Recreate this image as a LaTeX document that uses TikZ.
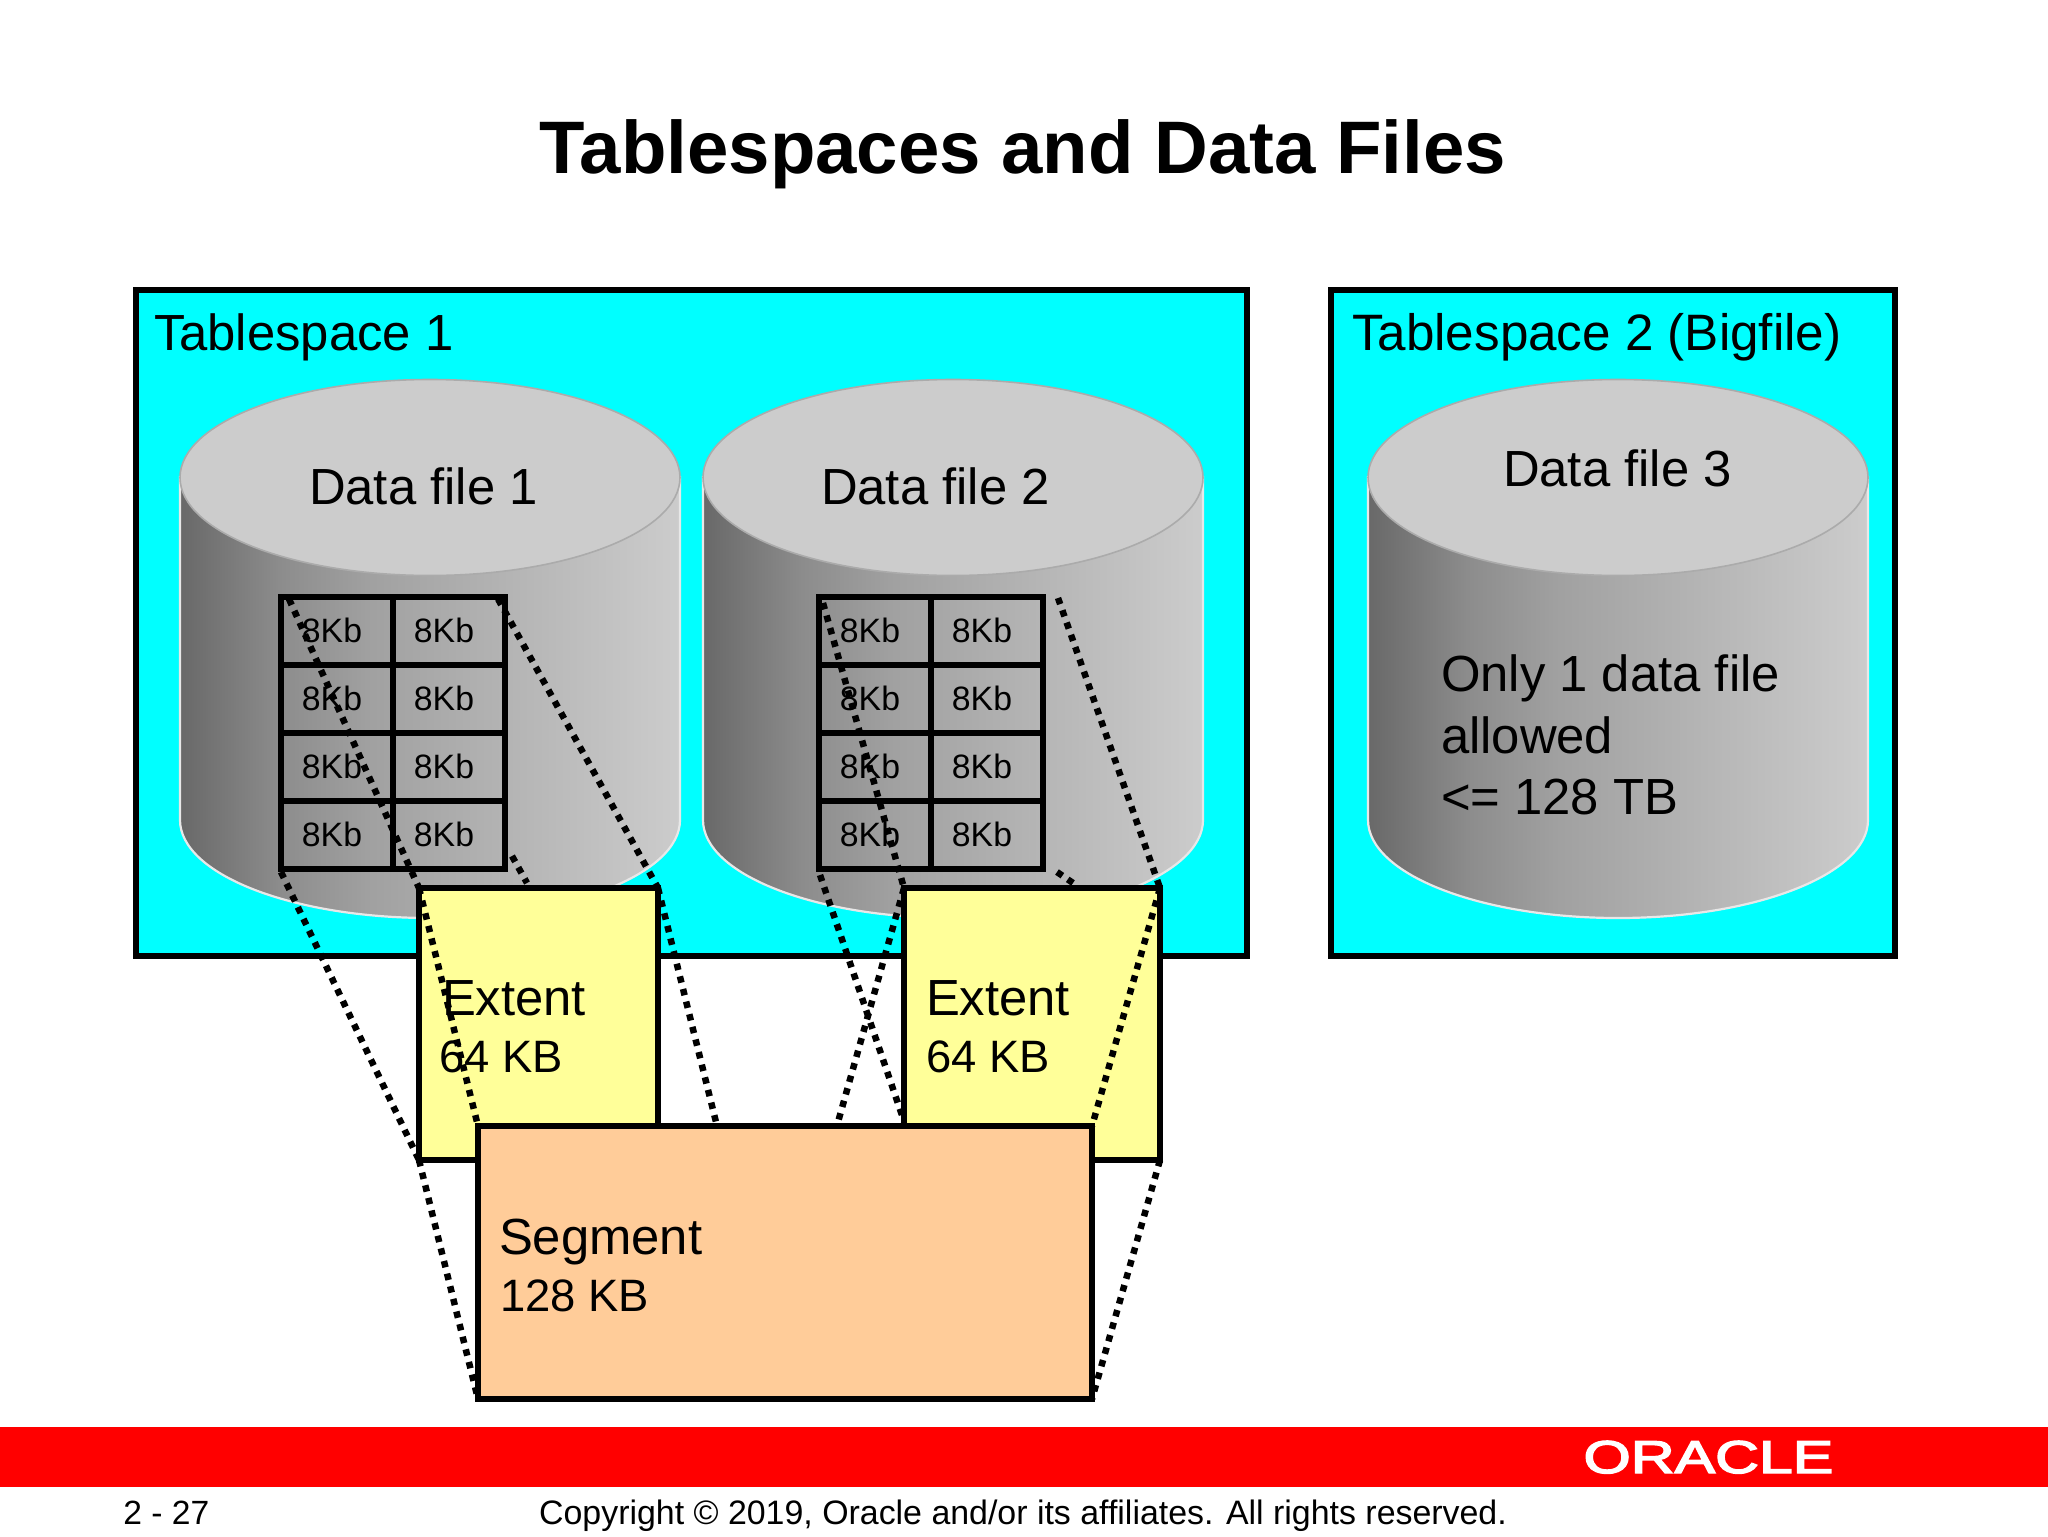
\documentclass[tikz,border=0pt]{standalone}
\usepackage{fontspec}
\setmainfont{Liberation Sans}
\newfontfamily\logofont[FakeBold=3]{Liberation Sans}
\definecolor{tscyan}{HTML}{00FFFF}
\definecolor{extyellow}{HTML}{FFFF99}
\definecolor{segorange}{HTML}{FFCC99}
\definecolor{oraclered}{HTML}{FF0000}
\newcommand{\fs}[1]{\fontsize{#1}{#1}\selectfont}
\pgfdeclarehorizontalshading{cylgrad}{100bp}{%
  rgb(0bp)=(.41,.41,.41);
  rgb(25bp)=(.41,.41,.41);
  rgb(35bp)=(.55,.55,.55);
  rgb(44bp)=(.63,.63,.63);
  rgb(55bp)=(.69,.69,.69);
  rgb(75bp)=(.80,.80,.80);
  rgb(100bp)=(.80,.80,.80)}
\tikzset{
  x=0.5pt,y=-0.5pt,
  box/.style={draw=black,line width=3.4pt,rectangle,outer sep=0pt,inner sep=0pt,anchor=north west},
  cell/.style={draw=black,line width=3.2pt,rectangle,outer sep=0pt,inner sep=0pt,
    minimum width=56pt,minimum height=34pt,text=black},
  lbl/.style={anchor=base west,inner sep=0pt,outer sep=0pt,text=black,font=\fs{25.4}},
  sizelbl/.style={lbl,font=\fs{22.7}},
  dots/.style={line width=3.25pt,dash pattern=on 3.25pt off 3.25pt,black},
}
\newcommand{\cylinder}[1]{%
  \shade[shading=cylgrad,draw=black!9,line width=1.1pt]
    (#1-250,477) -- (#1-250,820) arc[start angle=180,end angle=360,x radius=125pt,y radius=49pt]
    -- (#1+250,477) -- cycle;
  \fill[black!20,draw=black!33,line width=.8pt] (#1,477.5) ellipse[x radius=125pt,y radius=49pt];
}
\newcommand{\gridcells}[3]{% prefix, x of left column centre, x of right column centre
  \foreach \r/\yy in {1/631,2/699,3/767,4/835}{
    \node[cell] (#1r\r c1) at (#2,\yy) {\hspace*{-5pt}\raisebox{.8pt}{\fs{16.9}8Kb}};
    \node[cell] (#1r\r c2) at (#3,\yy) {\hspace*{-5pt}\raisebox{.8pt}{\fs{16.9}8Kb}};
  }
}
\begin{document}
\begin{tikzpicture}
\useasboundingbox[fill=white] (0,0) rectangle (2048,1536);

\node[anchor=base,inner sep=0pt,font=\fs{37.2}\bfseries] (title) at (1023,173) {Tablespaces and Data Files};

\node[box,fill=tscyan,minimum width=555.5pt,minimum height=333pt] (ts1) at (136,290) {};
\node[box,fill=tscyan,minimum width=282pt,minimum height=333pt] (ts2) at (1331,290) {};
\node[lbl] (ts1l) at (154,350) {Tablespace 1};
\node[lbl,font=\fs{25.6}] (ts2l) at (1352,350) {Tablespace 2 (Bigfile)};

\cylinder{430}
\cylinder{953}
\cylinder{1618}

\node[lbl] (df1) at (309,504) {Data file 1};
\node[lbl] (df2) at (821,504) {Data file 2};
\node[lbl] (df3) at (1503,486) {Data file 3};
\node[lbl] (only1) at (1441,691) {Only 1 data file};
\node[lbl] (only2) at (1441,753) {allowed};
\node[lbl] (only3) at (1441,814) {<= 128 TB};

\gridcells{a}{337}{449}
\gridcells{b}{875}{987}

% ends of the dotted lines near the block grids
\coordinate (a1) at (289,599);
\coordinate (a2) at (498,599);
\coordinate (a3) at (281,872);
\coordinate (a4) at (512,856);
\coordinate (a5) at (527,883);
\coordinate (b1) at (823,603);
\coordinate (b2) at (1058,598);
\coordinate (b3) at (820,875);
\coordinate (b4) at (1057,872);
\coordinate (b5) at (1073,883);
\coordinate (b6) at (905,1124);

% extents' outline, placed first so the dotted lines can end on it
\node[box,minimum width=119.5pt,minimum height=136pt,draw=none] (e1g) at (419,888) {};
\node[box,minimum width=128pt,minimum height=136pt,draw=none] (e2g) at (904,888) {};
\coordinate (s1) at (716,1122);
\coordinate (s2) at (838,1122);

\draw[dots] (a1) -- (e1g.north west);
\draw[dots] (a2) -- (e1g.north east);
\draw[dots] (a3) -- (e1g.south west);
\draw[dots] (a4) -- (a5);
\draw[dots] (b1) -- (e2g.north west);
\draw[dots] (b2) -- (e2g.north east);
\draw[dots] (b3) -- (b6);
\draw[dots] (b4) -- (b5);

\node[box,fill=extyellow,minimum width=119.5pt,minimum height=136pt] (e1) at (419,888) {};
\node[box,fill=extyellow,minimum width=128pt,minimum height=136pt] (e2) at (904,888) {};
\node[lbl] (e1a) at (442,1015) {Extent};
\node[sizelbl] (e1b) at (439,1072) {64 KB};
\node[lbl] (e2a) at (926,1015) {Extent};
\node[sizelbl] (e2b) at (926,1072) {64 KB};

\draw[dots] (e1.north east) -- (s1);
\draw[dots] (e2.north west) -- (s2);

\node[box,minimum width=307pt,minimum height=136.5pt,draw=none] (sg) at (478,1126) {};
\draw[dots] (e1.north west) -- (sg.north west);
\draw[dots] (e2.north east) -- (sg.north east);
\draw[dots] (e1.south west) -- (sg.south west);
\draw[dots] (e2.south east) -- (sg.south east);

\node[box,fill=segorange,minimum width=307pt,minimum height=136.5pt] (seg) at (478,1126) {};
\node[lbl] (segl) at (499,1254) {Segment};
\node[sizelbl] (segk) at (500,1311) {128 KB};

\fill[oraclered] (0,1427) rectangle (2048,1487);
\node[anchor=base west,inner sep=0pt,text=white,font=\fs{23}\logofont,xscale=1.32] (logo) at (1583,1473) {ORACLE};

\node[anchor=base west,inner sep=0pt,font=\fs{16.8}] (pg) at (123,1524) {2 - 27};
\node[anchor=base,inner sep=0pt,font=\fs{16.95}] (copy) at (1023,1524) {Copyright © 2019, Oracle and/or its affiliates. All rights reserved.};
\end{tikzpicture}
\end{document}
